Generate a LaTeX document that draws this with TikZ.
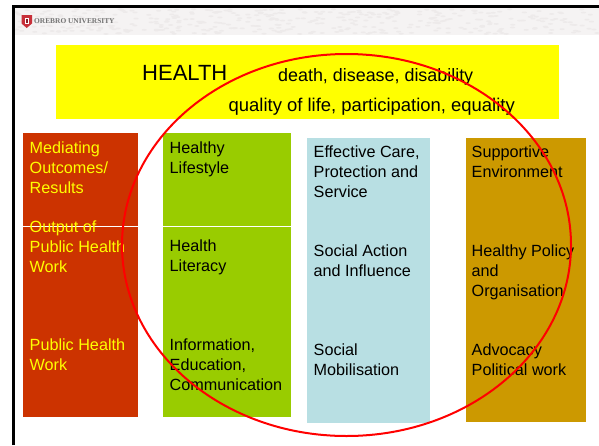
\documentclass[tikz,border=0pt]{standalone}
\usepackage{fontspec}
\setmainfont{Liberation Sans}
\newfontfamily\uniserif{Liberation Serif}
\definecolor{crust}{HTML}{CC3300}
\definecolor{leaf}{HTML}{99CC00}
\definecolor{pale}{HTML}{B8DFE3}
\definecolor{ochre}{HTML}{CC9900}
\definecolor{banner}{HTML}{F5F3F3}
\definecolor{speck}{HTML}{EDEAEA}
\definecolor{shield}{HTML}{C8303A}
\definecolor{sun}{RGB}{255,255,0}
\definecolor{hoop}{RGB}{255,0,0}
\tikzset{
  x=1pt,y=-1pt,
  lbl/.style={anchor=north west,inner sep=0pt,align=left,font=\fontsize{16.2}{20}\selectfont},
  ylbl/.style={lbl,text=sun},
  hd/.style={anchor=base west,inner sep=0pt},
}
\begin{document}
\begin{tikzpicture}
\useasboundingbox (0,0) rectangle (599,445);
\fill[white] (0,0) rectangle (599,445);
\fill[banner] (15,8) rectangle (599,35);
\pgfmathsetseed{7}
\foreach \k in {1,...,420}{
  \pgfmathsetmacro{\px}{16+rnd*582}
  \pgfmathsetmacro{\py}{9+rnd*25}
  \fill[speck] (\px,\py) ellipse [x radius=2.6,y radius=0.9];
}
\draw[black,line width=2.4pt] (13.5,445) -- (13.5,6.5) -- (599,6.5);
% logo
\fill[shield] (21.500,15) -- (32,15) -- (32,23.500) -- (26.700,28) -- (21.500,23.500) -- cycle;
\fill[white] (24.500,17.500) rectangle (29,24);
\fill[shield!70!black] (26,19) rectangle (27.500,23);
\node[anchor=base west,inner sep=0pt,font=\fontsize{7.4}{8}\selectfont\uniserif\bfseries,text=black!55] (uni) at (34,23.500) {OREBRO UNIVERSITY};
% yellow
\fill[sun] (56,45) rectangle (559,119);
\node[hd,font=\fontsize{22}{24}\selectfont] (h) at (142,80) {HEALTH};
\node[hd,font=\fontsize{17.9}{20}\selectfont] (h1) at (278,81) {death, disease, disability};
\node[hd,font=\fontsize{18.45}{20}\selectfont] (h2) at (228.500,111.500) {quality of life, participation, equality};
% columns
\fill[crust] (23,133) rectangle (138,417);
\fill[leaf] (163,133) rectangle (291,417);
\fill[pale] (307,138) rectangle (430,423);
\fill[ochre] (466,138) rectangle (586,422);
\draw[white,line width=0.8pt] (23,226) -- (138,226);
\draw[white,line width=0.8pt] (163,226) -- (291,226);
\node[ylbl] (a1) at (29.500,141.500) {Mediating\\Outcomes/\\Results};
\node[ylbl] (a2) at (29.500,220.500) {Output of\\Public Health\\Work};
\node[ylbl] (a3) at (29.500,339) {Public Health\\Work};
\node[lbl] (b1) at (169.500,141.500) {Healthy\\Lifestyle};
\node[lbl] (b2) at (169.500,240) {Health\\Literacy};
\node[lbl] (b3) at (169.500,339) {Information,\\Education,\\Communication};
\node[lbl] (c1) at (313.500,145.500) {Effective Care,\\Protection and\\Service};
\node[lbl] (c2) at (313.500,245) {Social Action\\and Influence};
\node[lbl] (c3) at (313.500,344) {Social\\Mobilisation};
\node[lbl] (d1) at (471.500,145.500) {Supportive\\Environment};
\node[lbl] (d2) at (471.500,245) {Healthy Policy\\and\\Organisation};
\node[lbl] (d3) at (471.500,344) {Advocacy\\Political work};
% ellipse
\draw[hoop,line width=2pt] (346.500,245) ellipse [x radius=224.500,y radius=191];
\end{tikzpicture}
\end{document}
